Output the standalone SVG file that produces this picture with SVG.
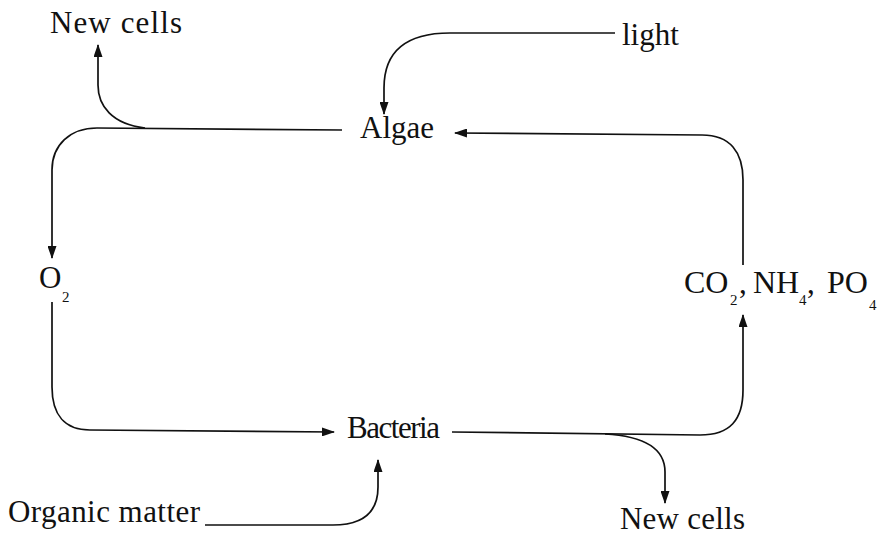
<svg xmlns="http://www.w3.org/2000/svg" width="877" height="537" viewBox="0 0 877 537">
<defs>
<marker id="ah" markerWidth="13" markerHeight="9" refX="12" refY="4.5" orient="auto" markerUnits="userSpaceOnUse">
<path d="M0,0 L13,4.5 L0,9 z" fill="#111"/>
</marker>
<style>
.t{font-family:"Liberation Serif","Times New Roman",serif;font-size:31px;fill:#111}
.n{font-size:32px}
.s{font-family:"Liberation Serif","Times New Roman",serif;font-size:15px;fill:#111}
.c{fill:none;stroke:#111;stroke-width:1.7}
.a{marker-end:url(#ah)}
</style>
</defs>
<rect width="877" height="537" fill="#fff"/>
<g id="connectors">
<path class="c a" d="M342 130 L97 128 C70 128 52 145 52 170 L52 258"/>
<path class="c a" d="M145 128 C112 124 98 106 98 85 L98 45"/>
<path class="c a" d="M615 33 L450 33 C402 33 384 55 384 88 L384 114"/>
<path class="c a" d="M743 265 L743 180 C743 152 730 135 702 135 L455 133"/>
<path class="c a" d="M52 302 L52 387 C52 415 65 430 90 430 L334 432"/>
<path class="c a" d="M452 432 L700 435 C730 435 743 420 743 390 L743 315"/>
<path class="c a" d="M605 434 C642 436 665 447 665 472 L665 503"/>
<path class="c a" d="M205 525 L333 525 C365 525 378 510 378 487 L378 460"/>
</g>
<g id="node-newcells-top"><text class="t" x="50" y="33" textLength="132">New cells</text></g>
<g id="node-light"><text class="t" x="622" y="45">light</text></g>
<g id="node-algae"><text class="t" x="360" y="138">Algae</text></g>
<g id="node-o2"><text class="t" x="39" y="288" font-size="29">O</text><text class="s" x="62" y="302">2</text></g>
<g id="node-nutrients">
<text class="t n" x="684" y="293">CO</text><text class="s" x="730" y="305">2</text><text class="t" x="739" y="293">,</text>
<text class="t n" x="753" y="293">NH</text><text class="s" x="799" y="305">4</text><text class="t" x="807" y="293">,</text>
<text class="t n" x="827" y="293">PO</text><text class="s" x="869" y="310">4</text>
</g>
<g id="node-bacteria"><text class="t" x="347" y="438" font-size="30" textLength="93">Bacteria</text></g>
<g id="node-organic"><text class="t" x="8" y="522" textLength="192">Organic matter</text></g>
<g id="node-newcells-bottom"><text class="t" x="620" y="529" font-size="30" textLength="125">New cells</text></g>
</svg>
